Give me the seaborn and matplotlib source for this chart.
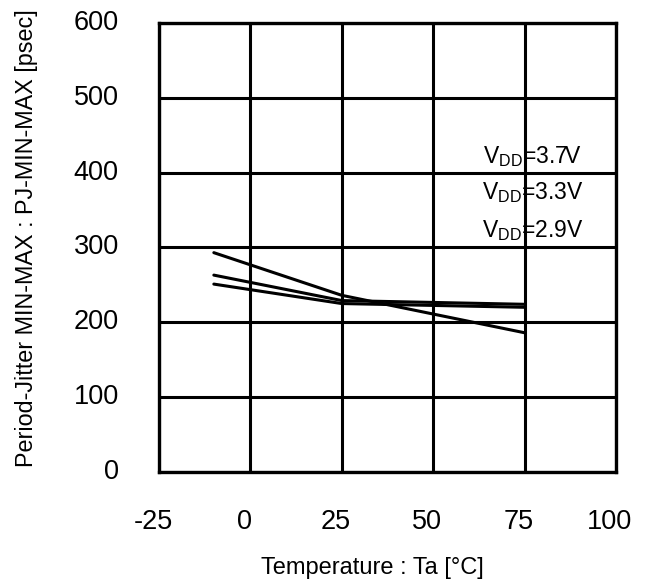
import numpy as np
import pandas as pd
import seaborn as sns
import matplotlib.pyplot as plt
from matplotlib.transforms import ScaledTranslation

sns.set_style("white")
plt.rcParams['font.family'] = ['Liberation Sans', 'DejaVu Sans']
plt.rcParams['mathtext.fontset'] = 'custom'
plt.rcParams['mathtext.rm'] = 'Liberation Sans'
plt.rcParams['mathtext.it'] = 'Liberation Sans'
plt.rcParams['axes.unicode_minus'] = False
plt.rcParams['text.color'] = 'black'
plt.rcParams['axes.labelcolor'] = 'black'
plt.rcParams['xtick.color'] = 'black'
plt.rcParams['ytick.color'] = 'black'

# data
temps = [-10, 25, 75]
pj_29 = [293, 236, 186]
pj_33 = [263, 229, 224]
pj_37 = [251, 225, 220]
series = ["VDD=2.9V", "VDD=3.3V", "VDD=3.7V"]
labels = ["V$_{\\rm DD}$=3.7V", "V$_{\\rm DD}$=3.3V", "V$_{\\rm DD}$=2.9V"]
label_y = [421, 373, 323]
xticks = [-25, 0, 25, 50, 75, 100]
yticks = [0, 100, 200, 300, 400, 500, 600]

df = pd.DataFrame({
    "temp": temps * 3,
    "pj": pj_29 + pj_33 + pj_37,
    "vdd": [s for s in series for _ in temps],
})

fig = plt.figure(figsize=(6.49, 5.87), dpi=100)
ax = fig.add_axes([0.245, 0.196, 0.704, 0.765])

sns.lineplot(data=df, x="temp", y="pj", hue="vdd", palette=["black"] * 3,
             linewidth=2.2, legend=False, ax=ax, zorder=3)

for lab, yy in zip(labels, label_y):
    ax.text(77.3, yy, lab, ha="center", va="center", fontsize=16.5, color="black", zorder=4)

ax.set_xlim(-25, 100)
ax.set_ylim(0, 600)
ax.set_xticks(xticks)
ax.set_yticks(yticks)
ax.grid(True, color="black", linewidth=2.2)
ax.set_axisbelow(True)
for sp in ax.spines.values():
    sp.set_color("black")
    sp.set_linewidth(2.4)
    sp.set_visible(True)

ax.tick_params(axis="both", length=0, labelsize=19.5, labelcolor="black")
ax.tick_params(axis="x", pad=27)
ax.tick_params(axis="y", pad=29)
for t in ax.get_xticklabels():
    t.set_transform(t.get_transform() + ScaledTranslation(-6 / 100, 0, fig.dpi_scale_trans))
for t in ax.get_yticklabels():
    t.set_transform(t.get_transform() + ScaledTranslation(0, 3 / 100, fig.dpi_scale_trans))

ax.set_xlabel("Temperature : Ta [°C]", fontsize=17, color="black")
ax.set_ylabel("Period-Jitter MIN-MAX : PJ-MIN-MAX [psec]", fontsize=16.8, color="black")
ax.xaxis.set_label_coords(0.467, -0.19)
ax.yaxis.set_label_coords(-0.265, 0.52)

fig.savefig("out.png", dpi=100, facecolor="white")
